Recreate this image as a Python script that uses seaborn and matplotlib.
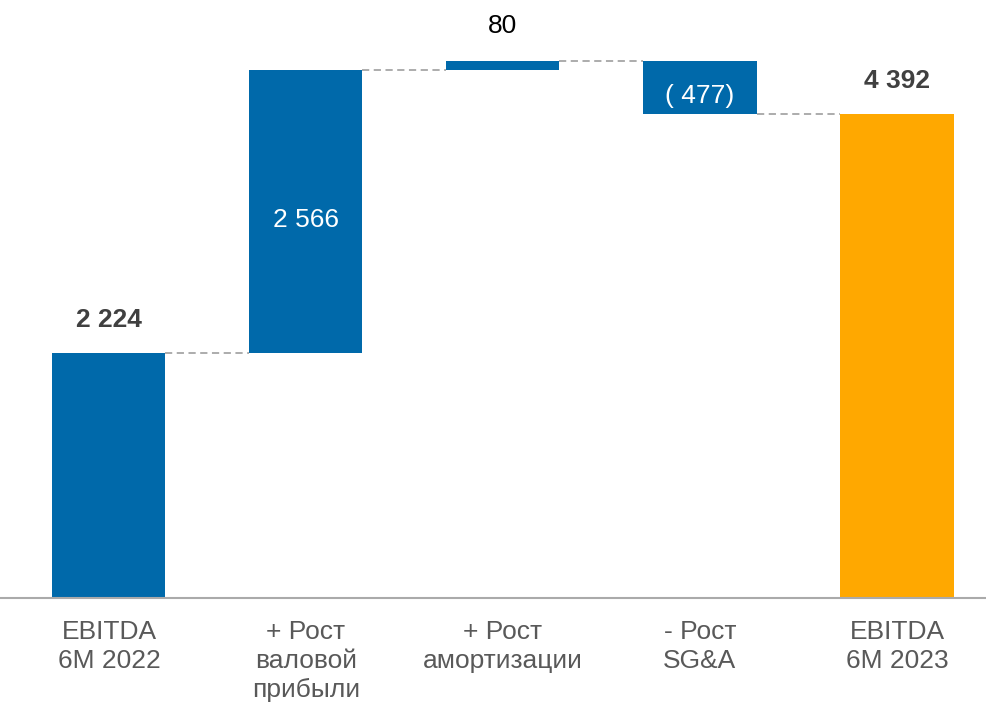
import numpy as np
import pandas as pd
import matplotlib
matplotlib.use("Agg")
import matplotlib.pyplot as plt
import seaborn as sns

# EBITDA bridge, 6M 2022 -> 6M 2023
categories = ["EBITDA\n6M 2022", "+ Рост\nваловой\nприбыли", "+ Рост\nамортизации",
              "- Рост\nSG&A", "EBITDA\n6M 2023"]
changes = [2224, 2566, 80, -477, 4392]
labels = ["2 224", "2 566", "80", "( 477)", "4 392"]
kinds = ["total", "delta", "delta", "delta", "total"]

BLUE = "#0069AA"
ORANGE = "#FFA800"

# running levels of the bridge
bottoms, heights, ends = [], [], []
level = 0
for v, k in zip(changes, kinds):
    if k == "total":
        bottoms.append(0)
        heights.append(v)
        level = v
    else:
        start = level
        level = start + v
        bottoms.append(min(start, level))
        heights.append(abs(v))
    ends.append(level)

df = pd.DataFrame({"category": categories, "height": heights, "bottom": bottoms})

sns.set_theme(style="white")
plt.rcParams["font.family"] = ["Liberation Sans", "DejaVu Sans"]

fig = plt.figure(figsize=(9.87, 7.04), dpi=100)
ax = fig.add_axes([0, 106 / 704, 1, 598 / 704])

sns.barplot(data=df, x="category", y="height", bottom=np.array(bottoms, dtype=float),
            color=BLUE, width=0.574, saturation=1, ax=ax)

bar_colors = [BLUE, BLUE, BLUE, BLUE, ORANGE]
for patch, c in zip(ax.patches, bar_colors):
    patch.set_facecolor(c)
    patch.set_edgecolor("none")

ax.set_xlim(-0.553, 4.457)
ax.set_ylim(0, 5428)

# dashed connectors between neighbouring bars
half = 0.574 / 2
for i in range(len(changes) - 1):
    ax.plot([i + half, i + 1 - half], [ends[i], ends[i]], color="#A6A6A6",
            lw=1.3, ls=(0, (4, 2.5)), zorder=1)

# value labels
for i, (lab, k) in enumerate(zip(labels, kinds)):
    top = bottoms[i] + heights[i]
    if k == "total":
        ax.annotate(lab, (i, top), xytext=(0, 33), textcoords="offset pixels",
                    ha="center", va="center", fontsize=19, fontweight="bold",
                    color="#404040")
    elif heights[i] < 200:
        ax.annotate(lab, (i, top), xytext=(0, 35), textcoords="offset pixels",
                    ha="center", va="center", fontsize=19, color="#000000")
    else:
        mid = bottoms[i] + heights[i] / 2
        ax.annotate(lab, (i, mid), xytext=(0, -8), textcoords="offset pixels",
                    ha="center", va="center", fontsize=19, color="white")

ax.set_xlabel("")
ax.set_ylabel("")
ax.set_yticks([])
ax.tick_params(axis="x", length=0, pad=16, labelsize=19, labelcolor="#595959")
for lbl in ax.get_xticklabels():
    lbl.set_linespacing(1.25)

for side in ["top", "left", "right"]:
    ax.spines[side].set_visible(False)
ax.spines["bottom"].set_color("#AAAAAA")
ax.spines["bottom"].set_linewidth(1.5)

fig.savefig("out.png", dpi=100)
